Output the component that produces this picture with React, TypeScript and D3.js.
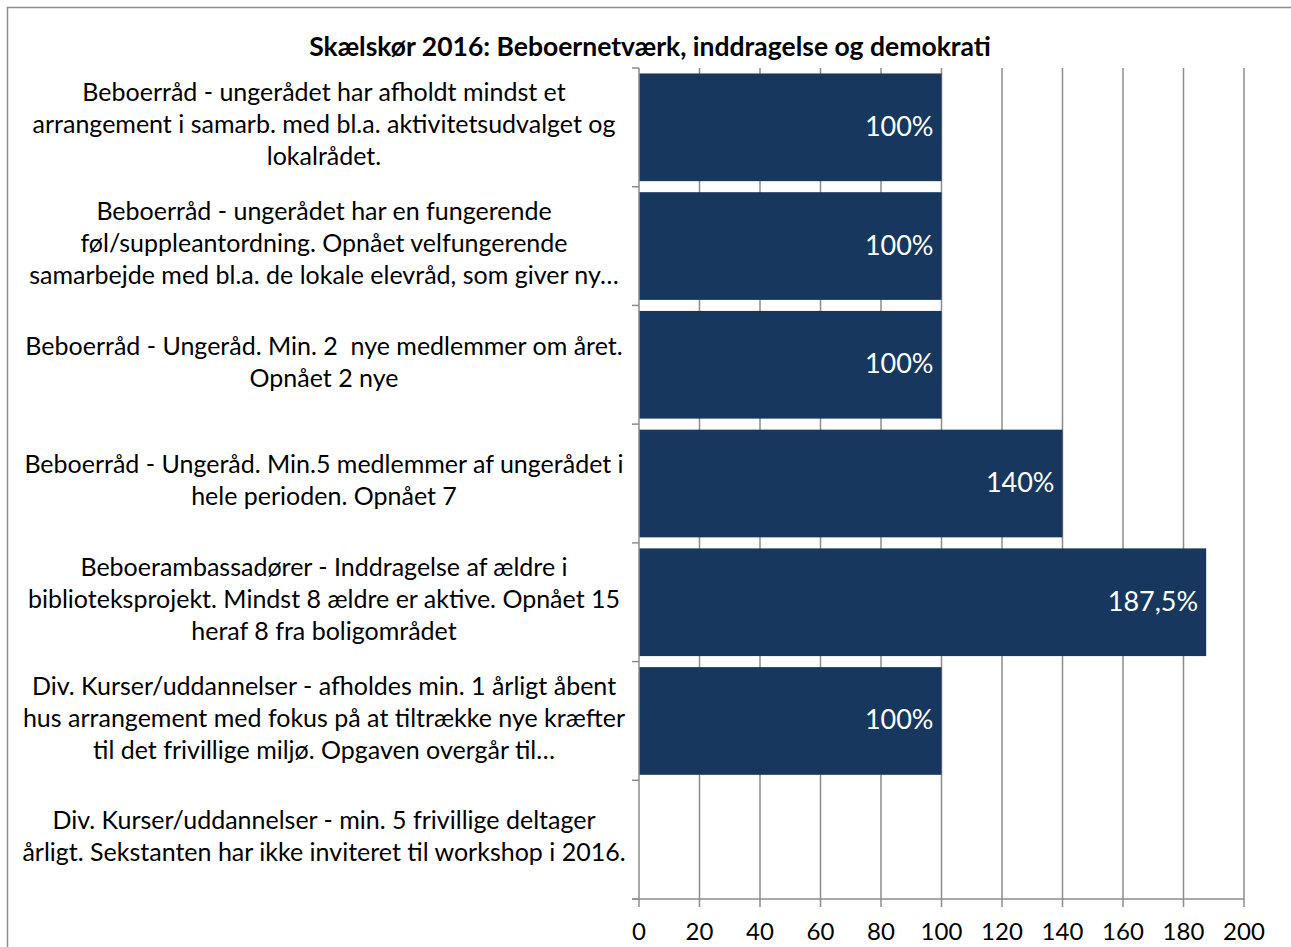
import React, { useEffect, useRef } from "react";
import * as d3 from "d3";

const title = "Skælskør 2016: Beboernetværk, inddragelse og demokrati";
const categories: string[][] = [
  ["Beboerråd - ungerådet har afholdt mindst et", "arrangement i samarb. med bl.a. aktivitetsudvalget og", "lokalrådet."],
  ["Beboerråd - ungerådet har en fungerende", "føl/suppleantordning. Opnået velfungerende", "samarbejde med bl.a. de lokale elevråd, som giver ny…"],
  ["Beboerråd - Ungeråd. Min. 2  nye medlemmer om året.", "Opnået 2 nye"],
  ["Beboerråd - Ungeråd. Min.5 medlemmer af ungerådet i", "hele perioden. Opnået 7"],
  ["Beboerambassadører - Inddragelse af ældre i", "biblioteksprojekt. Mindst 8 ældre er aktive. Opnået 15", "heraf 8 fra boligområdet"],
  ["Div. Kurser/uddannelser - afholdes min. 1 årligt åbent", "hus arrangement med fokus på at tiltrække nye kræfter", "til det frivillige miljø. Opgaven overgår til…"],
  ["Div. Kurser/uddannelser - min. 5 frivillige deltager", "årligt. Sekstanten har ikke inviteret til workshop i 2016."],
];
const values: (number | null)[] = [100, 100, 100, 140, 187.5, 100, null];
const valueLabels: string[] = ["100%", "100%", "100%", "140%", "187,5%", "100%", ""];
const xTicks: number[] = [0, 20, 40, 60, 80, 100, 120, 140, 160, 180, 200];

const W = 1291;
const H = 947;
const FONT = "Lato, 'Open Sans', sans-serif";

export default function App() {
  const ref = useRef<SVGSVGElement>(null);
  useEffect(() => {
    const svg = d3.select(ref.current);
    svg.selectAll("*").remove();
    const left = 639, right = 1244, top = 68, bottom = 899;
    const x = d3.scaleLinear().domain([0, 200]).range([left, right]);
    const idx = categories.map((_, i) => String(i));
    const y = d3.scaleBand().domain(idx).range([top, bottom]).paddingInner(0.093).paddingOuter(0.046);
    const grid = "#8c8c8c";

    svg.append("rect").attr("x", 7.5).attr("y", 7.5).attr("width", W + 20).attr("height", H + 20)
      .attr("fill", "white").attr("stroke", grid).attr("stroke-width", 1.5);

    svg.append("text").attr("x", 650).attr("y", 47).attr("dy", "0.35em").attr("text-anchor", "middle")
      .attr("font-family", FONT).attr("font-weight", "bold").attr("font-size", 26.5).attr("fill", "#000")
      .text(title);

    // gridlines
    svg.append("g").selectAll("line").data(xTicks.filter(t => t > 0)).join("line")
      .attr("x1", d => x(d)).attr("x2", d => x(d)).attr("y1", top).attr("y2", bottom + 8)
      .attr("stroke", grid).attr("stroke-width", 1.5);
    // bottom axis
    svg.append("line").attr("x1", left - 7).attr("x2", right).attr("y1", bottom).attr("y2", bottom)
      .attr("stroke", grid).attr("stroke-width", 1.5);
    svg.append("line").attr("x1", left).attr("x2", left).attr("y1", bottom).attr("y2", bottom + 8)
      .attr("stroke", grid).attr("stroke-width", 1.5);
    svg.append("g").selectAll("text").data(xTicks).join("text")
      .attr("x", d => x(d)).attr("y", 932).attr("dy", "0.35em").attr("text-anchor", "middle")
      .attr("font-family", FONT).attr("font-size", 24).attr("fill", "#000")
      .text(d => String(d));

    // bars
    svg.append("g").selectAll("rect").data(values.map((v, i) => ({ v, i })).filter(d => d.v != null)).join("rect")
      .attr("x", x(0)).attr("y", d => y(String(d.i))!)
      .attr("width", d => x(d.v as number) - x(0)).attr("height", y.bandwidth())
      .attr("fill", "#17375E");

    // left axis
    svg.append("line").attr("x1", left).attr("x2", left).attr("y1", top).attr("y2", bottom)
      .attr("stroke", grid).attr("stroke-width", 1.5);
    const step = (bottom - top) / categories.length;
    const boundaries = d3.range(categories.length + 1).map(i => top + i * step);
    svg.append("g").selectAll("line").data(boundaries).join("line")
      .attr("x1", left - 7).attr("x2", left).attr("y1", d => d).attr("y2", d => d)
      .attr("stroke", grid).attr("stroke-width", 1.5);

    // value labels
    svg.append("g").selectAll("text").data(values.map((v, i) => ({ v, i })).filter(d => d.v != null)).join("text")
      .attr("x", d => x(d.v as number) - 8).attr("y", d => top + (d.i + 0.5) * step - 1)
      .attr("dy", "0.35em").attr("text-anchor", "end")
      .attr("font-family", FONT).attr("font-size", 27).attr("fill", "#fff")
      .text(d => valueLabels[d.i]);

    // category labels
    const lh = 32;
    categories.forEach((lines, i) => {
      const cy = top + (i + 0.5) * step - 3;
      const y0 = cy - ((lines.length - 1) * lh) / 2;
      const t = svg.append("text").attr("text-anchor", "middle")
        .attr("font-family", FONT).attr("font-size", 25).attr("fill", "#000")
        .style("white-space", "pre");
      lines.forEach((ln, j) => {
        t.append("tspan").attr("x", 324).attr("y", y0 + j * lh).attr("dy", "0.35em").text(ln);
      });
    });
  }, []);
  return (
    <svg ref={ref} width={W} height={H}
      style={{ position: "fixed", left: 0, top: 0, background: "white" }} />
  );
}
